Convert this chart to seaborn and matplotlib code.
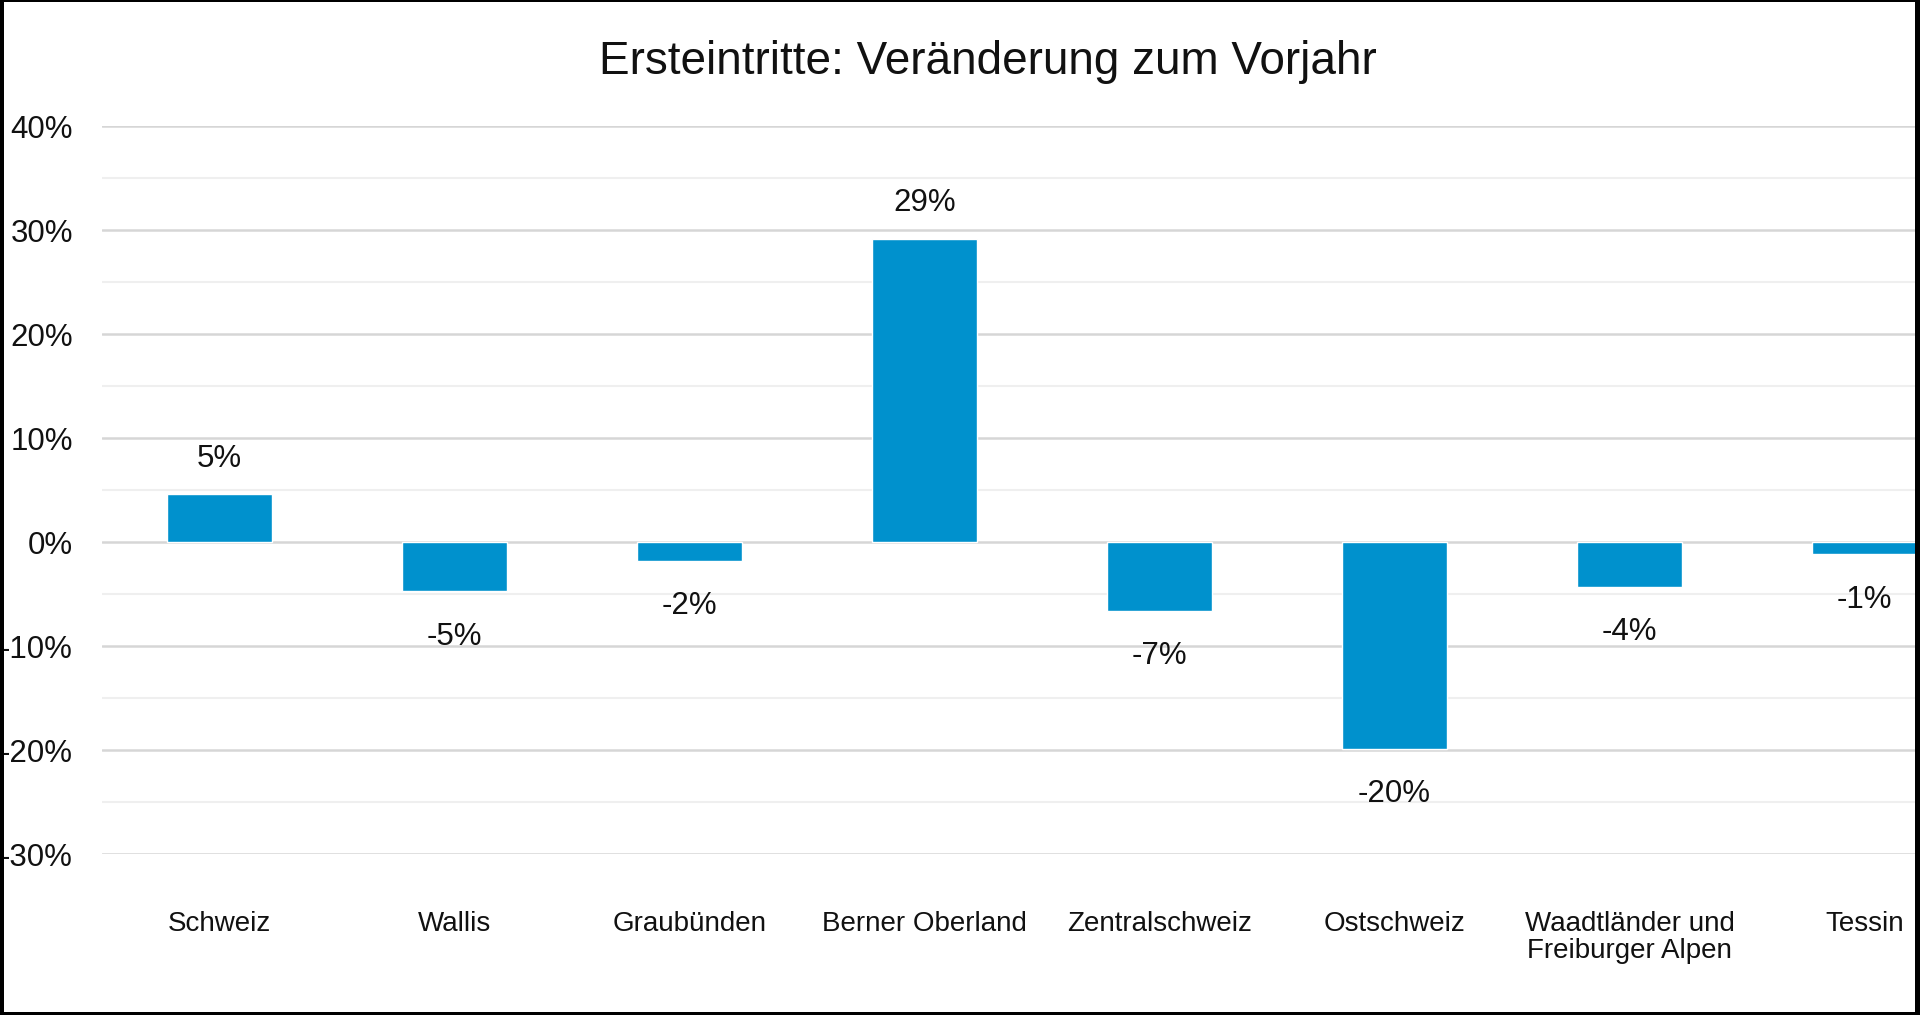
import numpy as np
import pandas as pd
import matplotlib
matplotlib.use('Agg')
import matplotlib.pyplot as plt
from matplotlib.patches import Rectangle
from matplotlib.ticker import FuncFormatter, MultipleLocator
import seaborn as sns

regions = ['Schweiz', 'Wallis', 'Graubünden', 'Berner Oberland', 'Zentralschweiz',
           'Ostschweiz', 'Waadtländer und\nFreiburger Alpen', 'Tessin']
change_pct = [4.6, -4.75, -1.8, 29.15, -6.6, -19.9, -4.3, -1.2]
y_ticks = [-30, -20, -10, 0, 10, 20, 30, 40]
title = 'Ersteintritte: Veränderung zum Vorjahr'

bar_color = '#0091CD'

sns.set_theme(style='white')
plt.rcParams['font.family'] = ['Liberation Sans', 'DejaVu Sans']

df = pd.DataFrame({'region': regions, 'change': change_pct})

W, H = 1920, 1015
fig = plt.figure(figsize=(W / 100, H / 100), dpi=100)
fig.patch.set_facecolor('white')

# plot area runs past the right edge, like the cropped screenshot
ax = fig.add_axes([102 / W, 161 / H, 1880 / W, 728 / H])
sns.barplot(data=df, x='region', y='change', color=bar_color, saturation=1,
            width=0.45, ax=ax)

ax.set_ylim(-30, 40)
ax.set_xlim(-0.5, 7.5)
ax.set_yticks(y_ticks)
ax.yaxis.set_minor_locator(MultipleLocator(5))
ax.yaxis.set_major_formatter(FuncFormatter(lambda v, p: f'{v:.0f}%'))
ax.grid(axis='y', which='major', color='#d6d6d6', linewidth=1.8, zorder=0)
ax.grid(axis='y', which='minor', color='#efefef', linewidth=1.5, zorder=0)
ax.set_axisbelow(True)
for s in ax.spines.values():
    s.set_visible(False)
ax.tick_params(axis='y', which='both', length=0, pad=21, labelsize=22.5, labelcolor='#111111')
ax.tick_params(axis='x', length=0, pad=41, labelsize=20, labelcolor='#111111')
for lbl in ax.get_xticklabels():
    lbl.set_linespacing(1.05)
ax.set_xlabel('')
ax.set_ylabel('')

# data labels, rounded like Excel (half away from zero)
for i, v in enumerate(change_pct):
    r = int(np.sign(v) * np.floor(abs(v) + 0.5))
    off = 25.5 if v >= 0 else -32.5
    ax.annotate(f'{r}%', xy=(i, v), xytext=(0, off), textcoords='offset points',
                ha='center', va='center', fontsize=22.5, color='#111111')

fig.text(988 / W, 1 - 74 / H, title, ha='center', va='baseline', fontsize=33, color='#111111')

# black screenshot frame
px = fig.transFigure
for x0, y0, w, h in [(0, 0, 4, H), (1915, 0, 5, H), (0, H - 2, W, 2), (0, 0, W, 3)]:
    fig.add_artist(Rectangle((x0 / W, y0 / H), w / W, h / H, transform=px,
                             facecolor='black', edgecolor='none'))

plt.savefig('out.png', dpi=100)
